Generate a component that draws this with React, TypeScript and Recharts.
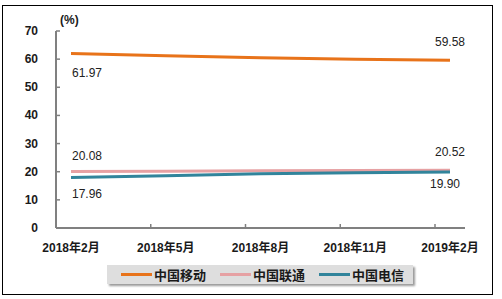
import React from 'react';
import { LineChart, Line, XAxis, YAxis, LabelList } from 'recharts';

const months = ['2018年2月', '2018年5月', '2018年8月', '2018年11月', '2019年2月'];
const mobile = [61.97, 61.2, 60.5, 60.0, 59.58];
const unicom = [20.08, 20.2, 20.3, 20.4, 20.52];
const telecom = [17.96, 18.6, 19.3, 19.6, 19.9];
const yTicks = [0, 10, 20, 30, 40, 50, 60, 70];

const series = [
  { key: 'mobile', name: '中国移动', color: '#E8731A', first: 19, last: -18, lastDx: 0 },
  { key: 'unicom', name: '中国联通', color: '#E6A1A3', first: -15, last: -18, lastDx: 0 },
  { key: 'telecom', name: '中国电信', color: '#31849B', first: 17, last: 12, lastDx: -5 },
];

const data = months.map((m, i) => ({
  month: m,
  mobile: mobile[i],
  unicom: unicom[i],
  telecom: telecom[i],
}));

const font = '"Liberation Sans", Arial, "Noto Sans CJK SC", sans-serif';

const YTick = (props: any) => {
  const { y, payload } = props;
  return (
    <g>
      <line x1={56} x2={60} y1={y} y2={y} stroke="#808080" strokeWidth={1.5} />
      <text x={38} y={y} dy={4} textAnchor="end" fontSize={12} fontWeight="bold" fill="#1a1a1a" fontFamily={font}>
        {payload.value}
      </text>
    </g>
  );
};

const XTick = (props: any) => {
  const { x, payload, index } = props;
  return (
    <g>
      {index > 0 && <line x1={x - 15} x2={x - 15} y1={228} y2={224} stroke="#808080" strokeWidth={1.5} />}
      <text x={x} y={248} dy={4} textAnchor="middle" fontSize={12} fontWeight="bold" fill="#1a1a1a" fontFamily={font}>
        {payload.value}
      </text>
    </g>
  );
};

const makeLabel = (s: typeof series[number]) => (props: any) => {
  const { x, y, value, index } = props;
  if (index !== 0 && index !== months.length - 1) return null;
  const first = index === 0;
  return (
    <text
      x={first ? x + 16 : x + s.lastDx}
      y={y + (first ? s.first : s.last)}
      dy={4}
      textAnchor="middle"
      fontSize={12}
      fill="#222"
      fontFamily={font}
    >
      {value.toFixed(2)}
    </text>
  );
};

const LegendBox = () => (
  <div
    style={{
      position: 'absolute',
      left: 107,
      top: 265,
      width: 306,
      height: 19,
      background: '#dedede',
      boxShadow: '2px 2px 2px #9a9a9a',
      display: 'flex',
      alignItems: 'center',
      fontFamily: '"Noto Sans CJK SC", sans-serif',
      fontWeight: 'bold',
      fontSize: 13,
      color: '#1a1a1a',
    }}
  >
    {series.map((s) => (
      <div key={s.key} style={{ display: 'flex', alignItems: 'center', marginLeft: 14 }}>
        <div style={{ width: 31, height: 3, background: s.color, marginRight: 2 }} />
        <span>{s.name}</span>
      </div>
    ))}
  </div>
);

export default function App() {
  return (
    <div style={{ position: 'fixed', left: 0, top: 0, width: 502, height: 299, background: '#fff' }}>
      <div
        style={{
          position: 'absolute',
          left: 2,
          top: 5,
          width: 489,
          height: 288,
          border: '1px solid #000',
        }}
      />
      <div
        style={{
          position: 'absolute',
          left: 60,
          top: 13,
          fontSize: 12,
          fontWeight: 'bold',
          fontFamily: font,
          color: '#1a1a1a',
        }}
      >
        (%)
      </div>
      <div style={{ position: 'absolute', left: 0, top: 0 }}>
        <LineChart width={502} height={299} data={data} margin={{ top: 31, right: 37, bottom: 41, left: 0 }}>
          <XAxis
            dataKey="month"
            padding={{ left: 15, right: 15 }}
            axisLine={{ stroke: '#808080', strokeWidth: 2 }}
            tickLine={false}
            tick={<XTick />}
            interval={0}
            height={30}
          />
          <YAxis
            domain={[0, 70]}
            ticks={yTicks}
            width={56}
            axisLine={{ stroke: '#808080', strokeWidth: 2 }}
            tickLine={false}
            tick={<YTick />}
          />
          {series.map((s) => (
            <Line
              key={s.key}
              dataKey={s.key}
              name={s.name}
              stroke={s.color}
              strokeWidth={3}
              dot={false}
              isAnimationActive={false}
            >
              <LabelList dataKey={s.key} content={makeLabel(s)} />
            </Line>
          ))}
        </LineChart>
      </div>
      <LegendBox />
    </div>
  );
}
